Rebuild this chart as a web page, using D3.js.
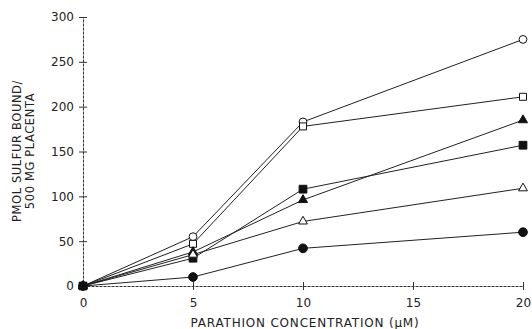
<!DOCTYPE html>
<meta charset="utf-8">
<style>
body { margin: 0; background: #fff; }
text { font-family: "DejaVu Sans", Arial, sans-serif; fill: #222; }
.axis path, .axis line { stroke: #333; stroke-width: 1; }
.series .ln { fill: none; stroke: #222; stroke-width: 1; }
</style>
<body></body>
<script src="https://cdnjs.cloudflare.com/ajax/libs/d3/7.8.5/d3.min.js"></script>
<script>

// parathion concentration (uM)
var conc = [0, 5, 10, 20];

// pmol sulfur bound / 500 mg placenta, one array per curve
var openCircle   = [0, 55, 183, 275];
var openSquare   = [0, 47, 178, 211];
var filledTri    = [0, 38, 96, 185];
var filledSquare = [0, 31, 108, 157];
var openTri      = [0, 35, 72, 109];
var filledCircle = [0, 10, 42, 60];

var xTicks = [0, 5, 10, 15, 20];
var yTicks = [0, 50, 100, 150, 200, 250, 300];

var series = [
  { name: "openCircle",   vals: openCircle,   shape: d3.symbolCircle,   fill: "#fff", size: 48 },
  { name: "openSquare",   vals: openSquare,   shape: d3.symbolSquare,   fill: "#fff", size: 49 },
  { name: "filledTri",    vals: filledTri,    shape: d3.symbolTriangle, fill: "#111", size: 36 },
  { name: "filledSquare", vals: filledSquare, shape: d3.symbolSquare,   fill: "#111", size: 60 },
  { name: "openTri",      vals: openTri,      shape: d3.symbolTriangle, fill: "#fff", size: 34 },
  { name: "filledCircle", vals: filledCircle, shape: d3.symbolCircle,   fill: "#111", size: 60 }
];

var width = 532, height = 329;
var margin = { left: 83, right: 9, top: 17, bottom: 43 };

var svg = d3.select("body").append("svg")
    .attr("width", width)
    .attr("height", height);

var x = d3.scaleLinear().domain([0, 20]).range([margin.left, width - margin.right]);
var y = d3.scaleLinear().domain([0, 300]).range([height - margin.bottom, margin.top]);

// axes: ticks cross the axis line
var xAxis = svg.append("g")
    .attr("class", "axis")
    .attr("transform", "translate(0," + y(0) + ")")
    .call(d3.axisBottom(x).tickValues(xTicks).tickSize(4).tickSizeOuter(0).tickPadding(8));
xAxis.selectAll(".tick line").attr("y1", -4);
xAxis.select(".domain").attr("stroke-dasharray", "3,1");
xAxis.selectAll("text").attr("font-size", 12).attr("fill", "#222").attr("font-family", "DejaVu Sans");

var yAxis = svg.append("g")
    .attr("class", "axis")
    .attr("transform", "translate(" + x(0) + ",0)")
    .call(d3.axisLeft(y).tickValues(yTicks).tickSize(4).tickSizeOuter(0).tickPadding(5));
yAxis.selectAll(".tick line").attr("x1", 4);
yAxis.select(".domain").attr("stroke-dasharray", "3,1");
yAxis.selectAll("text").attr("font-size", 12).attr("fill", "#222").attr("font-family", "DejaVu Sans");

// axis titles
svg.append("text")
    .attr("x", 305)
    .attr("y", 327)
    .attr("text-anchor", "middle")
    .attr("font-size", 12)
    .attr("letter-spacing", 0.8)
    .text("PARATHION CONCENTRATION (\u03bcM)");

var yl = svg.append("text")
    .attr("transform", "translate(21,151) rotate(-90)")
    .attr("text-anchor", "middle")
    .attr("font-size", 11.5)
    .attr("letter-spacing", 0.6);
yl.append("tspan").attr("x", 0).attr("dy", 0).text("PMOL SULFUR BOUND/");
yl.append("tspan").attr("x", 0).attr("dy", 13).text("500 MG PLACENTA");

var line = d3.line()
    .x(function(d, i) { return x(conc[i]); })
    .y(function(d) { return y(d); });

var g = svg.selectAll(".series")
    .data(series)
    .enter().append("g")
    .attr("class", "series");

g.append("path").attr("class", "ln").attr("d", function(d) { return line(d.vals); });

g.selectAll(".pt")
    .data(function(d) { return d.vals.map(function(v, i) { return { v: v, i: i, s: d }; }); })
    .enter().append("path")
    .attr("class", "pt")
    .attr("transform", function(d) { return "translate(" + x(conc[d.i]) + "," + y(d.v) + ")"; })
    .attr("d", function(d) { return d3.symbol().type(d.s.shape).size(d.s.size)(); })
    .attr("fill", function(d) { return d.s.fill; })
    .attr("stroke", "#111")
    .attr("stroke-width", 1);

</script>
